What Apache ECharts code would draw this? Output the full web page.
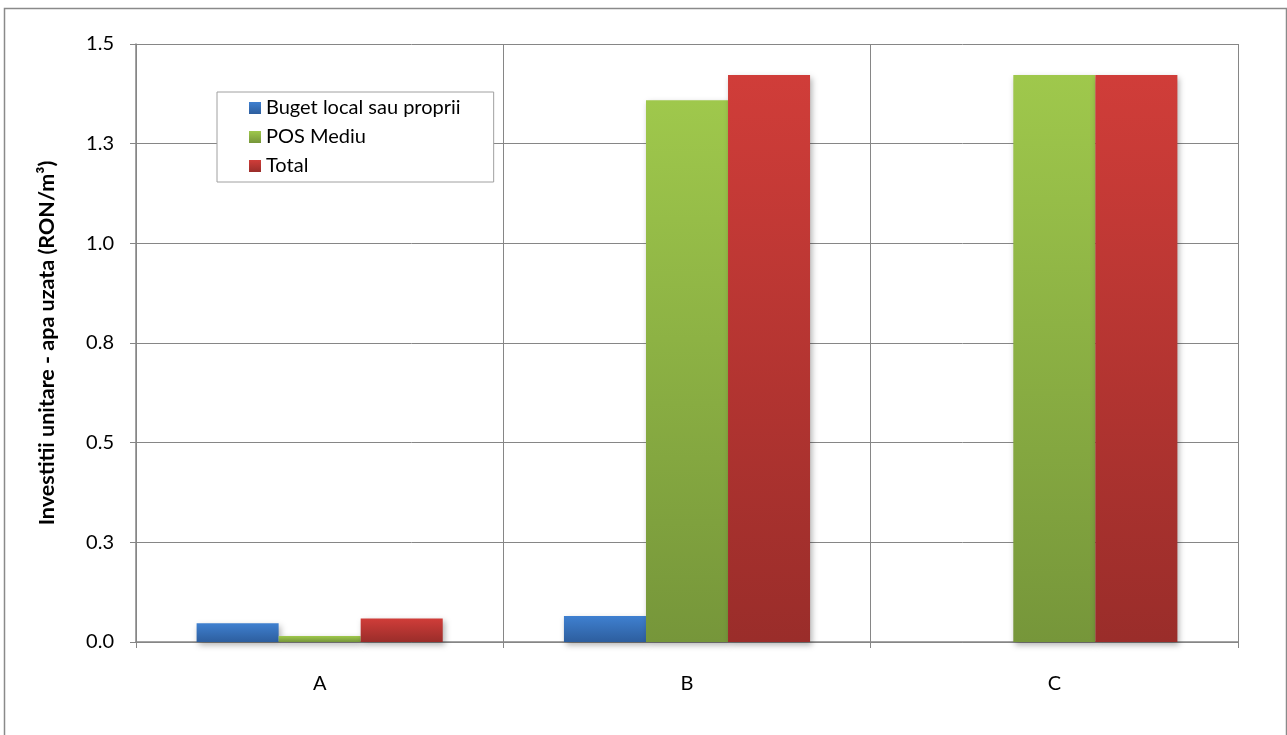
<!DOCTYPE html>
<html>
<head>
<meta charset="utf-8">
<script src="https://cdn.jsdelivr.net/npm/echarts@6/dist/echarts.min.js"></script>
<style>html,body{margin:0;padding:0;background:#fff}#c{width:1287px;height:735px}</style>
</head>
<body>
<div id="c"></div>
<script>
const categories = ['A', 'B', 'C'];
const seriesNames = ['Buget local sau proprii', 'POS Mediu', 'Total'];
const bugetLocal = [0.047, 0.065, 0];
const posMediu = [0.015, 1.359, 1.422];
const total = [0.059, 1.422, 1.422];
const yTicks = [0, 0.25, 0.5, 0.75, 1.0, 1.25, 1.5];

const grads = [
  ['#3f80d0', '#2d5e9e'],
  ['#9fc84c', '#76963a'],
  ['#d03d39', '#9a2d2a']
];
function grad(i) {
  return new echarts.graphic.LinearGradient(0, 0, 0, 1, [
    { offset: 0, color: grads[i][0] },
    { offset: 1, color: grads[i][1] }
  ]);
}
const FONT = 'Lato, "Open Sans", sans-serif';
const chart = echarts.init(document.getElementById('c'), null, { renderer: 'canvas' });
const values = [bugetLocal, posMediu, total];
chart.setOption({
  animation: false,
  backgroundColor: '#fff',
  textStyle: { fontFamily: FONT },
  graphic: [{
    type: 'rect', left: 2, top: 6, z: -1,
    shape: { width: 1282, height: 740 },
    style: { fill: 'none', stroke: '#8a8a8a', lineWidth: 1.5 }
  }],
  grid: { left: 136, right: 49, top: 44, bottom: 93 },
  legend: {
    orient: 'vertical', left: 217, top: 92,
    data: seriesNames,
    backgroundColor: '#fff',
    borderColor: '#a0a0a0', borderWidth: 1,
    padding: [6, 33, 6, 32],
    itemWidth: 12, itemHeight: 12, itemGap: 9,
    icon: 'rect',
    textStyle: { fontSize: 20, color: '#000', fontFamily: FONT, padding: [0, 0, 0, 0] }
  },
  xAxis: {
    type: 'category', data: categories,
    axisLine: { lineStyle: { color: '#868686', width: 1.5 } },
    axisTick: { show: true, alignWithLabel: false, length: 6, lineStyle: { color: '#868686' } },
    splitLine: { show: true, lineStyle: { color: '#868686', width: 1 } },
    axisLabel: { fontSize: 20, color: '#000', margin: 32, fontFamily: FONT }
  },
  yAxis: {
    type: 'value', min: 0, max: 1.5, interval: 0.25,
    name: 'Investitii unitare - apa uzata (RON/m³)',
    nameLocation: 'middle', nameGap: 78, nameRotate: 90,
    nameTextStyle: { fontSize: 21.5, fontWeight: 'bold', color: '#000', fontFamily: FONT },
    axisLine: { show: true, lineStyle: { color: '#868686', width: 1.5 } },
    axisTick: { show: true, length: 6, lineStyle: { color: '#868686' } },
    splitLine: { show: true, lineStyle: { color: '#868686', width: 1 } },
    axisLabel: { fontSize: 20, color: '#000', margin: 22, fontFamily: FONT,
      formatter: v => yTicks.indexOf(v) >= 0 ? v.toFixed(1) : '' }
  },
  series: seriesNames.map((n, i) => ({
    name: n, type: 'bar', data: values[i],
    barGap: '0%', barCategoryGap: '33%',
    itemStyle: { color: grad(i), shadowBlur: 6, shadowOffsetX: 2, shadowOffsetY: 3, shadowColor: 'rgba(0,0,0,0.3)' }
  }))
});
</script>
</body>
</html>
